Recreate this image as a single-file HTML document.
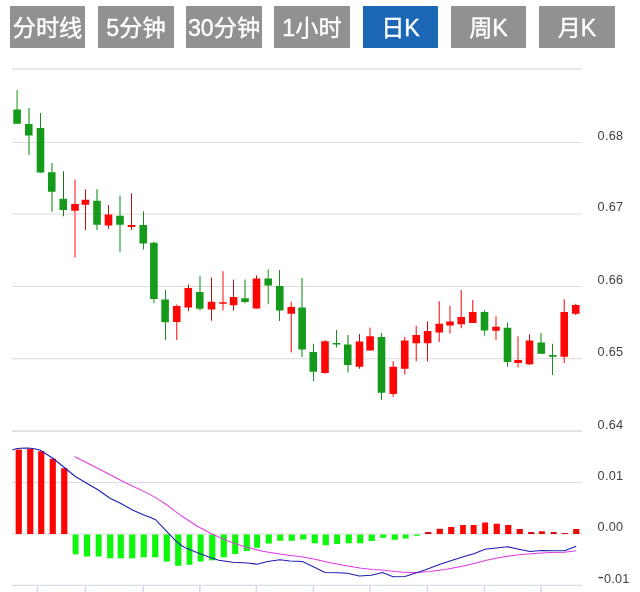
<!DOCTYPE html>
<html lang="zh"><head><meta charset="utf-8"><title>K线图</title>
<style>
html,body{margin:0;padding:0;background:#fff;}
body{width:640px;height:592px;position:relative;overflow:hidden;font-family:"Liberation Sans","Noto Sans CJK SC",sans-serif;}
.b{position:absolute;top:6px;height:41.7px;background:#919191;color:#fff;font-size:23.2px;line-height:44px;-webkit-text-stroke:0.35px #fff;text-align:center;white-space:nowrap;}
.b.a{background:#1c67b5;}
.c{position:absolute;left:0;top:0;}
.l{font-family:"Liberation Sans",sans-serif;font-size:12.7px;letter-spacing:0.25px;fill:#3e4248;}
</style></head><body>
<div class="b" style="left:10px;width:75px">分时线</div><div class="b" style="left:98px;width:76px">5分钟</div><div class="b" style="left:186px;width:76px">30分钟</div><div class="b" style="left:274px;width:76px">1小时</div><div class="b a" style="left:363px;width:75px">日K</div><div class="b" style="left:451px;width:75px">周K</div><div class="b" style="left:539px;width:76px">月K</div>
<svg class="c" width="640" height="592" viewBox="0 0 640 592">
<rect x="12" y="68" width="570" height="2" fill="#e9e9e9"/>
<rect x="12" y="142" width="570" height="1" fill="#dcdcdc"/>
<rect x="12" y="213.5" width="570" height="1" fill="#dcdcdc"/>
<rect x="12" y="286" width="570" height="1" fill="#dcdcdc"/>
<rect x="12" y="358.25" width="570" height="1" fill="#dcdcdc"/>
<rect x="12" y="482" width="570" height="1" fill="#dcdcdc"/>
<rect x="12" y="533.5" width="570" height="1" fill="#dcdcdc"/>
<rect x="12" y="430" width="570" height="2" fill="#e2e2e2"/>
<rect x="12" y="584.8" width="570" height="1" fill="#cfd6e6"/>
<rect x="36.60" y="585.5" width="1.6" height="7" fill="#d6dcea"/>
<rect x="84.60" y="585.5" width="1.6" height="7" fill="#d6dcea"/>
<rect x="142.35" y="585.5" width="1.6" height="7" fill="#d6dcea"/>
<rect x="199.10" y="585.5" width="1.6" height="7" fill="#d6dcea"/>
<rect x="255.60" y="585.5" width="1.6" height="7" fill="#d6dcea"/>
<rect x="312.60" y="585.5" width="1.6" height="7" fill="#d6dcea"/>
<rect x="369.10" y="585.5" width="1.6" height="7" fill="#d6dcea"/>
<rect x="426.60" y="585.5" width="1.6" height="7" fill="#d6dcea"/>
<rect x="483.60" y="585.5" width="1.6" height="7" fill="#d6dcea"/>
<rect x="540.35" y="585.5" width="1.6" height="7" fill="#d6dcea"/>
<rect x="15.65" y="449.5" width="6.20" height="84.50" fill="#ff0202"/>
<rect x="27.15" y="449" width="6.20" height="85.00" fill="#ff0202"/>
<rect x="38.15" y="451.25" width="6.20" height="82.75" fill="#ff0202"/>
<rect x="49.65" y="458.75" width="6.20" height="75.25" fill="#ff0202"/>
<rect x="61.15" y="468.25" width="6.20" height="65.75" fill="#ff0202"/>
<rect x="72.65" y="534.5" width="5.95" height="19.80" fill="#0cf70c"/>
<rect x="83.9" y="534.5" width="6.20" height="22.05" fill="#0cf70c"/>
<rect x="95.65" y="534.5" width="5.95" height="22.05" fill="#0cf70c"/>
<rect x="107.15" y="534.5" width="6.20" height="23.80" fill="#0cf70c"/>
<rect x="117.65" y="534.5" width="6.20" height="23.80" fill="#0cf70c"/>
<rect x="129.15" y="534.5" width="6.20" height="23.80" fill="#0cf70c"/>
<rect x="140.65" y="534.5" width="6.20" height="22.80" fill="#0cf70c"/>
<rect x="152.15" y="534.5" width="6.20" height="22.80" fill="#0cf70c"/>
<rect x="163.65" y="534.5" width="6.20" height="27.05" fill="#0cf70c"/>
<rect x="175.15" y="534.5" width="6.20" height="31.30" fill="#0cf70c"/>
<rect x="186.65" y="534.5" width="5.70" height="30.30" fill="#0cf70c"/>
<rect x="197.65" y="534.5" width="5.95" height="27.05" fill="#0cf70c"/>
<rect x="209.15" y="534.5" width="6.20" height="25.80" fill="#0cf70c"/>
<rect x="220.65" y="534.5" width="6.20" height="22.80" fill="#0cf70c"/>
<rect x="232.15" y="534.5" width="6.20" height="19.55" fill="#0cf70c"/>
<rect x="243.65" y="534.5" width="6.20" height="16.55" fill="#0cf70c"/>
<rect x="254.15" y="534.5" width="5.95" height="13.30" fill="#0cf70c"/>
<rect x="265.65" y="534.5" width="6.20" height="9.05" fill="#0cf70c"/>
<rect x="277.15" y="534.5" width="6.20" height="6.30" fill="#0cf70c"/>
<rect x="288.65" y="534.5" width="6.20" height="6.30" fill="#0cf70c"/>
<rect x="300.15" y="534.5" width="6.20" height="5.05" fill="#0cf70c"/>
<rect x="311.65" y="534.5" width="6.20" height="8.80" fill="#0cf70c"/>
<rect x="322.65" y="534.5" width="6.20" height="10.80" fill="#0cf70c"/>
<rect x="334.15" y="534.5" width="5.95" height="9.55" fill="#0cf70c"/>
<rect x="345.65" y="534.5" width="6.20" height="8.80" fill="#0cf70c"/>
<rect x="357.15" y="534.5" width="6.20" height="8.80" fill="#0cf70c"/>
<rect x="368.65" y="534.5" width="6.20" height="6.55" fill="#0cf70c"/>
<rect x="380.15" y="534.5" width="5.95" height="3.30" fill="#0cf70c"/>
<rect x="391.65" y="534.5" width="6.20" height="5.30" fill="#0cf70c"/>
<rect x="402.65" y="534.5" width="5.95" height="4.05" fill="#0cf70c"/>
<rect x="413.9" y="534.5" width="5.95" height="1.30" fill="#0cf70c"/>
<rect x="425.15" y="532" width="6.20" height="2.00" fill="#d40a14"/>
<rect x="436.65" y="528.75" width="6.20" height="5.25" fill="#ee0606"/>
<rect x="448.15" y="527" width="6.20" height="7.00" fill="#ff0202"/>
<rect x="460.15" y="525" width="5.70" height="9.00" fill="#ff0202"/>
<rect x="470.65" y="525" width="5.95" height="9.00" fill="#ff0202"/>
<rect x="482.15" y="522.5" width="5.95" height="11.50" fill="#ff0202"/>
<rect x="493.65" y="523.75" width="6.20" height="10.25" fill="#ff0202"/>
<rect x="505.15" y="525" width="6.20" height="9.00" fill="#ff0202"/>
<rect x="516.65" y="529" width="6.20" height="5.00" fill="#ee0606"/>
<rect x="528.15" y="532" width="6.20" height="2.00" fill="#d40a14"/>
<rect x="538.9" y="531.25" width="5.95" height="2.75" fill="#ee0606"/>
<rect x="550.65" y="532" width="5.95" height="2.00" fill="#d40a14"/>
<rect x="561.65" y="533" width="6.20" height="1.00" fill="#d40a14"/>
<rect x="573.15" y="529" width="6.20" height="5.00" fill="#ee0606"/>
<polyline fill="none" stroke="#e23be2" stroke-width="1.05" points="74.5,456.5 100,469.5 125,482.5 150,494.4 160,500.4 165.6,504 181.25,515.8 196.9,526 212.5,534.2 220.3,537.7 231.25,542.3 243.75,546.6 250,548.1 262.5,551.25 275,553.25 290,555.5 300,556.5 315,559.25 330,562.75 345,565.5 360,568 372.5,569.5 382.5,570 395,571.5 407.5,572.5 417.5,572.5 430,571.5 445,569.5 462.5,566.25 475,563.25 487.5,560 500,557.5 512.5,555.5 525,554.25 537.5,553.25 550,552.5 564.5,552.25 576.25,550.75"/>
<polyline fill="none" stroke="#1c1cb0" stroke-width="1.05" points="12.5,450 16,448.8 20,448.2 27.5,448 33,448.5 40,450 52.5,458 65,468 75,476.25 86.25,483 97.5,489.5 110,498.25 120,503 132.5,510 143.75,515 150,517.3 155.5,519.7 165.7,530.3 175.8,540.8 181.25,545.5 186,548.1 196.9,552.5 209.4,557.2 218.75,560.3 232.8,562.3 247.5,563.1 257,564.25 267.5,561.5 280,559.75 290,561 302.5,561.5 325,572.5 337.5,572.75 347.5,573.25 359.25,576 371.25,575.25 382.5,572.5 393,576.75 405,576.5 415,573.25 425,570 440,564.25 450,561 462.5,557 473.75,553.75 485,549.25 496.25,548 507.5,546.75 518.75,549.25 530,551.5 541.25,550.5 552.5,550.75 564.5,550.75 576.25,546.25"/>
<rect x="16.50" y="90" width="1.2" height="33.75" fill="#159a1b" opacity="0.85"/>
<rect x="13.30" y="109.5" width="7.6" height="14.25" fill="#159a1b"/>
<rect x="28" y="108" width="2" height="47.00" fill="#7cc47f"/>
<rect x="24.95" y="124" width="7.6" height="11.50" fill="#159a1b"/>
<rect x="40" y="113" width="1" height="60.00" fill="#1a8a1e"/>
<rect x="36.70" y="128" width="7.6" height="44.50" fill="#159a1b"/>
<rect x="51" y="163" width="2" height="48.75" fill="#7cc47f"/>
<rect x="47.95" y="172.25" width="7.6" height="19.50" fill="#159a1b"/>
<rect x="63" y="171.25" width="1" height="45.00" fill="#1d701f"/>
<rect x="59.45" y="198.75" width="7.6" height="11.25" fill="#159a1b"/>
<rect x="74" y="179.5" width="2" height="78.00" fill="#ff8585"/>
<rect x="71.20" y="204" width="7.6" height="6.75" fill="#fd0606"/>
<rect x="85" y="189.25" width="1" height="40.75" fill="#b01414"/>
<rect x="81.60" y="199.75" width="7.6" height="5.00" fill="#fd0606"/>
<rect x="96" y="189.25" width="2" height="40.75" fill="#7cc47f"/>
<rect x="93.20" y="200.75" width="7.6" height="24.00" fill="#159a1b"/>
<rect x="108" y="205" width="1" height="23.75" fill="#b01414"/>
<rect x="104.70" y="214.5" width="7.6" height="11.00" fill="#fd0606"/>
<rect x="119" y="195.5" width="2" height="56.25" fill="#7cc47f"/>
<rect x="116.20" y="215.75" width="7.6" height="9.00" fill="#159a1b"/>
<rect x="131" y="193.25" width="1" height="36.75" fill="#b01414"/>
<rect x="127.70" y="225" width="7.6" height="2.00" fill="#fd0606"/>
<rect x="143" y="211.25" width="1" height="38.25" fill="#1a8a1e"/>
<rect x="139.45" y="225" width="7.6" height="18.50" fill="#159a1b"/>
<rect x="153.30" y="241.5" width="1.2" height="61.75" fill="#159a1b" opacity="0.85"/>
<rect x="150.10" y="242.75" width="7.6" height="56.25" fill="#159a1b"/>
<rect x="165" y="290" width="1" height="50.00" fill="#1a8a1e"/>
<rect x="161.30" y="299.5" width="7.6" height="22.75" fill="#159a1b"/>
<rect x="176.15" y="304.5" width="1.2" height="35.50" fill="#fd0606" opacity="0.85"/>
<rect x="172.95" y="306" width="7.6" height="16.00" fill="#fd0606"/>
<rect x="188" y="284.5" width="1" height="26.75" fill="#b01414"/>
<rect x="184.45" y="288" width="7.6" height="19.50" fill="#fd0606"/>
<rect x="199" y="276.25" width="2" height="34.25" fill="#7cc47f"/>
<rect x="195.95" y="292" width="7.6" height="16.75" fill="#159a1b"/>
<rect x="211" y="277.5" width="1" height="43.25" fill="#b01414"/>
<rect x="207.70" y="301.75" width="7.6" height="7.75" fill="#fd0606"/>
<rect x="222" y="271.25" width="2" height="39.25" fill="#ff8585"/>
<rect x="219.20" y="302.25" width="7.6" height="1.50" fill="#fd0606"/>
<rect x="233" y="279.5" width="1" height="31.00" fill="#b01414"/>
<rect x="229.80" y="297" width="7.6" height="8.25" fill="#fd0606"/>
<rect x="244" y="279.5" width="2" height="23.75" fill="#7cc47f"/>
<rect x="241.20" y="298.25" width="7.6" height="3.75" fill="#159a1b"/>
<rect x="256" y="275.5" width="1" height="33.00" fill="#b01414"/>
<rect x="252.70" y="278.5" width="7.6" height="30.00" fill="#fd0606"/>
<rect x="267.65" y="269.25" width="1.2" height="35.00" fill="#159a1b" opacity="0.85"/>
<rect x="264.45" y="278.5" width="7.6" height="7.00" fill="#159a1b"/>
<rect x="279" y="270" width="1" height="51.00" fill="#1a8a1e"/>
<rect x="275.95" y="286" width="7.6" height="24.50" fill="#159a1b"/>
<rect x="290.65" y="301.75" width="1.2" height="50.75" fill="#fd0606" opacity="0.85"/>
<rect x="287.45" y="306.9" width="7.6" height="6.85" fill="#fd0606"/>
<rect x="301" y="278" width="2" height="79.00" fill="#7cc47f"/>
<rect x="298.30" y="307.5" width="7.6" height="42.00" fill="#159a1b"/>
<rect x="313" y="343.75" width="1" height="37.25" fill="#1a8a1e"/>
<rect x="309.45" y="352" width="7.6" height="19.75" fill="#159a1b"/>
<rect x="324.40" y="340" width="1.2" height="33.75" fill="#fd0606" opacity="0.85"/>
<rect x="321.20" y="341.25" width="7.6" height="31.75" fill="#fd0606"/>
<rect x="336" y="330" width="1" height="17.50" fill="#1a8a1e"/>
<rect x="332.70" y="343" width="7.6" height="1.50" fill="#159a1b"/>
<rect x="347" y="335" width="2" height="37.50" fill="#7cc47f"/>
<rect x="343.95" y="344.5" width="7.6" height="20.50" fill="#159a1b"/>
<rect x="359" y="334" width="1" height="34.75" fill="#b01414"/>
<rect x="355.70" y="341.5" width="7.6" height="25.25" fill="#fd0606"/>
<rect x="369" y="327.5" width="2" height="23.00" fill="#ff8585"/>
<rect x="366.30" y="336.25" width="7.6" height="14.25" fill="#fd0606"/>
<rect x="381" y="333" width="1" height="67.00" fill="#1a8a1e"/>
<rect x="377.70" y="337" width="7.6" height="55.75" fill="#159a1b"/>
<rect x="392.65" y="361.25" width="1.2" height="35.50" fill="#fd0606" opacity="0.85"/>
<rect x="389.45" y="366.75" width="7.6" height="27.25" fill="#fd0606"/>
<rect x="404.15" y="337" width="1.2" height="37.50" fill="#fd0606" opacity="0.85"/>
<rect x="400.95" y="340.5" width="7.6" height="28.25" fill="#fd0606"/>
<rect x="415.65" y="325.75" width="1.2" height="35.50" fill="#fd0606" opacity="0.85"/>
<rect x="412.45" y="335" width="7.6" height="8.25" fill="#fd0606"/>
<rect x="427" y="321.25" width="1" height="40.00" fill="#d81010"/>
<rect x="423.80" y="331" width="7.6" height="12.25" fill="#fd0606"/>
<rect x="438.65" y="301.25" width="1.2" height="40.75" fill="#fd0606" opacity="0.85"/>
<rect x="435.45" y="323.75" width="7.6" height="8.75" fill="#fd0606"/>
<rect x="449" y="305.75" width="2" height="28.00" fill="#ff8585"/>
<rect x="446.20" y="321.5" width="7.6" height="4.00" fill="#fd0606"/>
<rect x="460.65" y="290" width="1.2" height="38.25" fill="#fd0606" opacity="0.85"/>
<rect x="457.45" y="317" width="7.6" height="7.25" fill="#fd0606"/>
<rect x="472.15" y="300" width="1.2" height="23.00" fill="#fd0606" opacity="0.85"/>
<rect x="468.95" y="312" width="7.6" height="11.00" fill="#fd0606"/>
<rect x="483.90" y="310" width="1.2" height="25.75" fill="#159a1b" opacity="0.85"/>
<rect x="480.70" y="312" width="7.6" height="18.50" fill="#159a1b"/>
<rect x="495" y="316.25" width="2" height="23.75" fill="#ff8585"/>
<rect x="492.20" y="326.75" width="7.6" height="4.00" fill="#fd0606"/>
<rect x="507" y="322.5" width="1" height="44.25" fill="#1a8a1e"/>
<rect x="503.70" y="327.75" width="7.6" height="34.25" fill="#159a1b"/>
<rect x="517" y="336.25" width="2" height="31.25" fill="#ff8585"/>
<rect x="514.30" y="360" width="7.6" height="3.00" fill="#fd0606"/>
<rect x="529" y="334.25" width="1" height="30.75" fill="#b01414"/>
<rect x="525.70" y="340.5" width="7.6" height="23.75" fill="#fd0606"/>
<rect x="540" y="333" width="2" height="20.75" fill="#7cc47f"/>
<rect x="537.45" y="342.5" width="7.6" height="11.25" fill="#159a1b"/>
<rect x="552" y="343.75" width="1" height="31.25" fill="#1a8a1e"/>
<rect x="548.95" y="355" width="7.6" height="1.75" fill="#159a1b"/>
<rect x="563.65" y="299.25" width="1.2" height="63.75" fill="#fd0606" opacity="0.85"/>
<rect x="560.45" y="312" width="7.6" height="44.75" fill="#fd0606"/>
<rect x="575.15" y="303.75" width="1.2" height="11.25" fill="#fd0606" opacity="0.85"/>
<rect x="571.95" y="305" width="7.6" height="8.75" fill="#fd0606"/>
<text x="597.6" y="139.5" class="l">0.68</text>
<text x="597.6" y="211" class="l">0.67</text>
<text x="597.6" y="283.5" class="l">0.66</text>
<text x="597.6" y="355.5" class="l">0.65</text>
<text x="597.6" y="428.5" class="l">0.64</text>
<text x="597.6" y="479.8" class="l">0.01</text>
<text x="597.6" y="530.8" class="l">0.00</text>
<text x="597.6" y="582.5" class="l"><tspan font-size="19" dy="0.9">-</tspan><tspan dy="-0.9" dx="-0.2">0.01</tspan></text>
</svg>
</body></html>
